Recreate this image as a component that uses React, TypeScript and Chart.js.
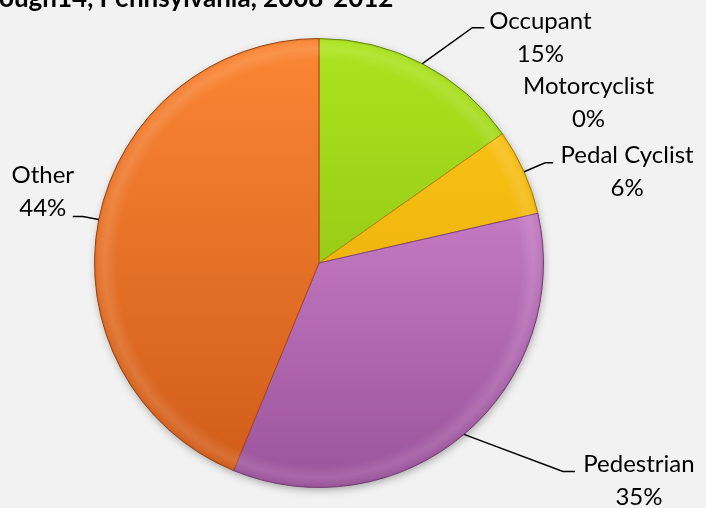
import React, { useEffect, useRef } from "react";
import { Chart, registerables } from "chart.js";

Chart.register(...registerables);

// ---- data ----
const categories = ["Occupant", "Motorcyclist", "Pedal Cyclist", "Pedestrian", "Other"];
const shares = [15.2, 0, 6.2, 34.7, 43.7];
const titleText = "ough14, Pennsylvania, 2008-2012";

// ---- styles ----
const sliceTop = ["#abe41e", "#5b9bd5", "#ffc81a", "#dc92da", "#fb8634"];
const sliceBottom = ["#86b50f", "#41719c", "#e0a300", "#9b539b", "#cf5b19"];
const sliceEdge = ["#6f950c", "#36608a", "#b88600", "#804480", "#a9480f"];

const FONT = "Lato, 'Noto Sans', sans-serif";

// offsets relative to the slice's outer-edge midpoint
const labelLayout = [
  { elbow: [50, -36], end: [62, -36], text: [118, -26] },
  { elbow: null, end: null, text: [86, -31] },
  { elbow: [21, -9], end: [29, -9], text: [103, 0] },
  { elbow: [99, 37], end: [111, 37], text: [175, 46] },
  { elbow: [-16, -3], end: [-26, -3], text: [-56, -28] },
];

const backgroundPlugin = {
  id: "bg",
  beforeDraw(chart: any) {
    const { ctx, width, height } = chart;
    ctx.save();
    ctx.fillStyle = "#f2f2f2";
    ctx.fillRect(0, 0, width, height);
    ctx.restore();
  },
  beforeDatasetsDraw(chart: any) {
    const meta = chart.getDatasetMeta(0);
    const arc: any = meta.data[0];
    if (!arc) return;
    const { x, y, outerRadius } = arc.getProps(["x", "y", "outerRadius"], true);
    const ctx = chart.ctx;
    ctx.save();
    ctx.shadowColor = "rgba(0,0,0,0.35)";
    ctx.shadowBlur = 8;
    ctx.shadowOffsetY = 3;
    ctx.shadowOffsetX = 1;
    ctx.beginPath();
    ctx.arc(x, y, outerRadius - 1, 0, Math.PI * 2);
    ctx.fillStyle = "#cccccc";
    ctx.fill();
    ctx.restore();
  },
  afterDatasetsDraw(chart: any) {
    const meta = chart.getDatasetMeta(0);
    const arc: any = meta.data[0];
    if (!arc) return;
    const { x, y, outerRadius } = arc.getProps(["x", "y", "outerRadius"], true);
    const ctx = chart.ctx;
    ctx.save();
    const g = ctx.createRadialGradient(x, y, outerRadius * 0.9, x, y, outerRadius);
    g.addColorStop(0, "rgba(255,255,255,0)");
    g.addColorStop(0.55, "rgba(255,255,255,0.12)");
    g.addColorStop(0.85, "rgba(255,255,255,0.04)");
    g.addColorStop(1, "rgba(0,0,0,0.12)");
    ctx.beginPath();
    ctx.arc(x, y, outerRadius, 0, Math.PI * 2);
    ctx.fillStyle = g;
    ctx.fill();
    ctx.restore();
  },
  afterDraw(chart: any) {
    const ctx = chart.ctx;
    ctx.save();
    ctx.font = `bold 26px ${FONT}`;
    ctx.fillStyle = "#000";
    ctx.textBaseline = "alphabetic";
    ctx.textAlign = "left";
    ctx.fillText(titleText, -1, 7);
    ctx.restore();
  },
};

const labelPlugin = {
  id: "leaderLabels",
  afterDatasetsDraw(chart: any) {
    const ctx = chart.ctx;
    const meta = chart.getDatasetMeta(0);
    const data = chart.data.datasets[0].data as number[];
    const total = data.reduce((a, b) => a + b, 0);
    ctx.save();
    ctx.strokeStyle = "#000";
    ctx.lineWidth = 1.5;
    ctx.fillStyle = "#000";
    ctx.font = `24px ${FONT}`;
    ctx.textAlign = "center";
    ctx.textBaseline = "middle";
    meta.data.forEach((arc: any, i: number) => {
      const { x, y, startAngle, endAngle, outerRadius } = arc.getProps(
        ["x", "y", "startAngle", "endAngle", "outerRadius"],
        true
      );
      const mid = (startAngle + endAngle) / 2;
      const ex = x + Math.cos(mid) * outerRadius;
      const ey = y + Math.sin(mid) * outerRadius;
      const L = labelLayout[i];
      if (L.elbow && L.end) {
        ctx.beginPath();
        ctx.moveTo(ex, ey);
        ctx.lineTo(ex + L.elbow[0], ey + L.elbow[1]);
        ctx.lineTo(ex + L.end[0], ey + L.end[1]);
        ctx.stroke();
      }
      const tx = ex + L.text[0];
      const ty = ey + L.text[1];
      const pct = Math.round((data[i] / total) * 100) + "%";
      ctx.fillText(chart.data.labels[i], tx, ty - 16.5);
      ctx.fillText(pct, tx, ty + 16.5);
    });
    ctx.restore();
  },
};

export default function App() {
  const ref = useRef<HTMLCanvasElement | null>(null);
  useEffect(() => {
    document.body.style.margin = "0";
    if (!ref.current) return;
    const chart = new Chart(ref.current, {
      type: "pie",
      data: {
        labels: categories,
        datasets: [
          {
            data: shares,
            backgroundColor: (c: any) => {
              const i = c.dataIndex;
              const area = c.chart.chartArea;
              if (!area) return sliceTop[i];
              const g = c.chart.ctx.createLinearGradient(0, area.top, 0, area.bottom);
              g.addColorStop(0, sliceTop[i]);
              g.addColorStop(1, sliceBottom[i]);
              return g;
            },
            borderColor: sliceEdge,
            borderWidth: 1,
          },
        ],
      },
      options: {
        responsive: false,
        animation: false,
        layout: { padding: { top: 38, bottom: 20, left: 94, right: 162 } },
        plugins: {
          legend: { display: false },
          title: { display: false },
          tooltip: { enabled: false },
        },
      },
      plugins: [backgroundPlugin, labelPlugin],
    });
    return () => chart.destroy();
  }, []);
  return (
    <div style={{ width: 706, height: 508, background: "#f2f2f2" }}>
      <canvas ref={ref} width={706} height={508} style={{ display: "block" }} />
    </div>
  );
}
